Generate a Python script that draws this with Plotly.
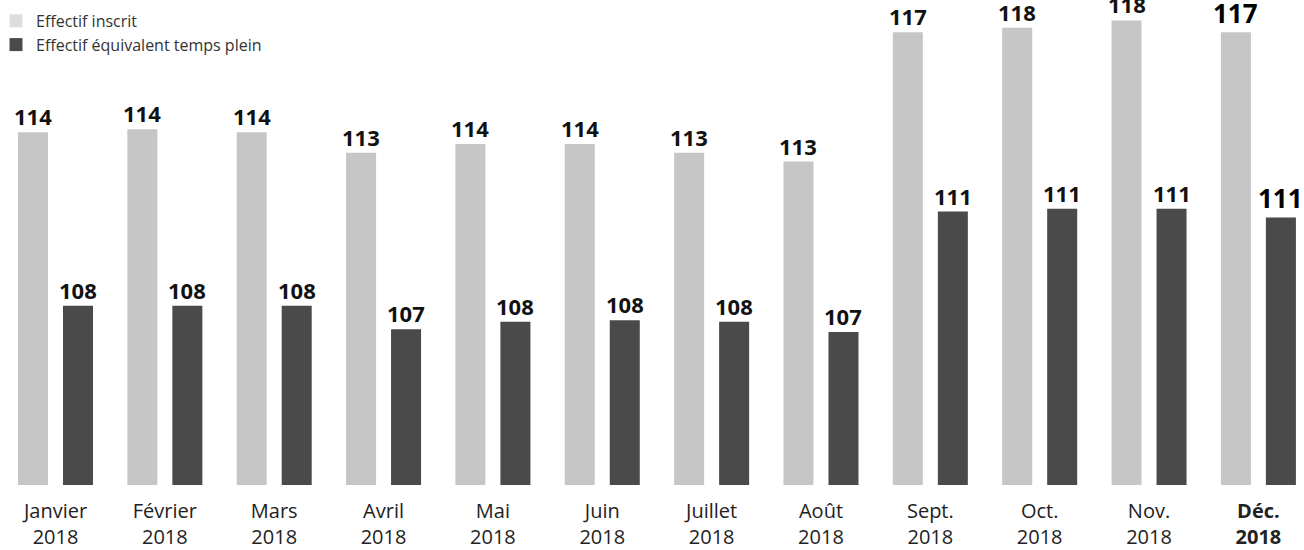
import plotly.graph_objects as go

months = ["Janvier", "Février", "Mars", "Avril", "Mai", "Juin", "Juillet",
          "Août", "Sept.", "Oct.", "Nov.", "Déc."]
years = ["2018"] * 12
inscrit = [114.0, 114.1, 114.0, 113.3, 113.6, 113.6, 113.3, 113.0, 117.4, 117.55, 117.8, 117.4]
etp = [108.1, 108.1, 108.1, 107.3, 107.55, 107.6, 107.55, 107.2, 111.3, 111.4, 111.4, 111.1]
series_names = ["Effectif inscrit", "Effectif équivalent temps plein"]
bar_colors = ["#c6c6c6", "#4a4a4a"]
legend_colors = ["#dedede", "#4a4a4a"]

ticktext = [f"{m}<br>{y}" for m, y in zip(months[:-1], years[:-1])]
ticktext.append(f"<b>{months[-1]}<br>{years[-1]}</b>")
xcats = list(range(len(months)))

BARGAP = 0.177
label_sizes = [22] * 11 + [26]
label_colors = ["#111111"] * 11 + ["#000000"]

fig = go.Figure()
for vals, name, col in zip([inscrit, etp], series_names, bar_colors):
    fig.add_trace(go.Bar(
        x=xcats, y=vals, name=name, showlegend=False,
        marker=dict(color=col, line=dict(width=0)),
        hoverinfo="skip",
    ))
# legend entries (swatches)
for name, col in zip(series_names, legend_colors):
    fig.add_trace(go.Scatter(
        x=[None], y=[None], mode="markers", name=name,
        marker=dict(symbol="square", size=13, color=col, line=dict(width=0)),
        hoverinfo="skip",
    ))

# value labels above the bars
half = (1 - BARGAP) / 4
for k, vals in enumerate([inscrit, etp]):
    off = -half if k == 0 else half
    for i, v in enumerate(vals):
        fig.add_annotation(
            x=xcats[i] + off, y=v, xref="x", yref="y",
            text=f"<b>{v:.0f}</b>", showarrow=False,
            xanchor="center", yanchor="bottom", yshift=-1,
            font=dict(family="Open Sans", size=label_sizes[i], color=label_colors[i]),
        )

fig.update_layout(
    width=1304, height=550,
    margin=dict(l=0, r=0, t=0, b=65),
    paper_bgcolor="white", plot_bgcolor="white",
    barmode="group", bargap=BARGAP, bargroupgap=0.333,
    font=dict(family="Open Sans", color="#222222"),
    showlegend=True,
    legend=dict(x=0, y=0.992, xanchor="left", yanchor="top",
                font=dict(size=16, color="#333333"),
                bgcolor="rgba(0,0,0,0)", tracegroupgap=0,
                indentation=-4, itemclick=False),
    xaxis=dict(tickmode="array", tickvals=xcats, ticktext=ticktext,
               range=[-0.5075, 11.417], showgrid=False, zeroline=False,
               showline=False, ticks="", ticklabelstandoff=12, automargin=False,
               tickfont=dict(size=20, color="#222222")),
    yaxis=dict(range=[102, 118.497], visible=False, showgrid=False, automargin=False),
)

fig.write_html("out.html")
